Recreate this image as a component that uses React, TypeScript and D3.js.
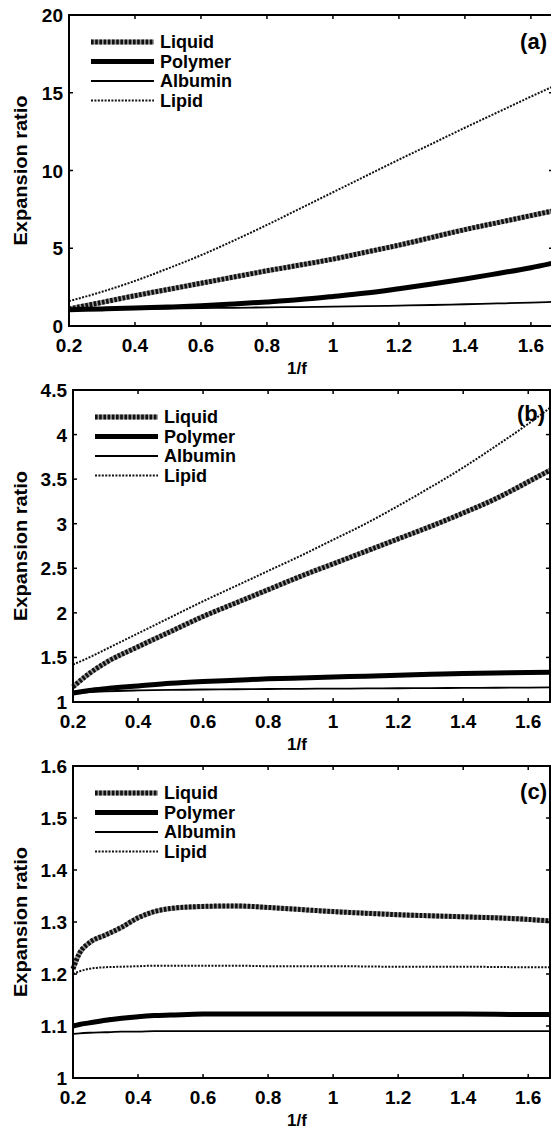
import React from "react";
import * as d3 from "d3";

const seriesNames = ["Liquid", "Polymer", "Albumin", "Lipid"];

// Panel (a)
const aX = [0.2, 0.3, 0.4, 0.5, 0.6, 0.7, 0.8, 0.9, 1.0, 1.1, 1.2, 1.3, 1.4, 1.5, 1.6, 1.667];
const aLiquid = [1.1, 1.52, 1.95, 2.35, 2.75, 3.15, 3.55, 3.92, 4.3, 4.75, 5.2, 5.7, 6.2, 6.65, 7.1, 7.4];
const aPolymer = [1.05, 1.1, 1.15, 1.22, 1.3, 1.42, 1.55, 1.7, 1.9, 2.12, 2.4, 2.7, 3.02, 3.38, 3.75, 4.05];
const aAlbumin = [1.05, 1.08, 1.1, 1.12, 1.15, 1.17, 1.2, 1.22, 1.25, 1.28, 1.31, 1.35, 1.4, 1.45, 1.5, 1.55];
const aLipid = [1.6, 2.2, 2.9, 3.7, 4.55, 5.5, 6.5, 7.55, 8.6, 9.65, 10.7, 11.72, 12.75, 13.75, 14.75, 15.4];

// Panel (b)
const bX = [0.2, 0.25, 0.3, 0.4, 0.5, 0.6, 0.7, 0.8, 0.9, 1.0, 1.1, 1.2, 1.3, 1.4, 1.5, 1.6, 1.667];
const bLiquid = [1.17, 1.32, 1.44, 1.62, 1.79, 1.96, 2.11, 2.26, 2.41, 2.55, 2.69, 2.83, 2.97, 3.12, 3.28, 3.47, 3.6];
const bPolymer = [1.1, 1.13, 1.15, 1.18, 1.21, 1.23, 1.245, 1.26, 1.27, 1.28, 1.29, 1.3, 1.31, 1.32, 1.325, 1.33, 1.335];
const bAlbumin = [1.1, 1.11, 1.12, 1.13, 1.135, 1.14, 1.143, 1.146, 1.148, 1.15, 1.152, 1.154, 1.156, 1.158, 1.16, 1.162, 1.165];
const bLipid = [1.42, 1.5, 1.59, 1.77, 1.95, 2.13, 2.3, 2.47, 2.64, 2.82, 3.0, 3.2, 3.41, 3.63, 3.87, 4.12, 4.3];

// Panel (c)
const cX = [0.2, 0.22, 0.25, 0.3, 0.35, 0.4, 0.45, 0.5, 0.6, 0.7, 0.8, 0.9, 1.0, 1.2, 1.4, 1.6, 1.667];
const cLiquid = [1.21, 1.24, 1.26, 1.275, 1.29, 1.308, 1.32, 1.326, 1.33, 1.331, 1.328, 1.324, 1.32, 1.314, 1.31, 1.305, 1.302];
const cPolymer = [1.1, 1.103, 1.106, 1.111, 1.115, 1.118, 1.12, 1.121, 1.123, 1.123, 1.123, 1.123, 1.123, 1.123, 1.123, 1.122, 1.122];
const cAlbumin = [1.085, 1.086, 1.087, 1.088, 1.089, 1.089, 1.09, 1.09, 1.09, 1.09, 1.09, 1.09, 1.09, 1.09, 1.09, 1.09, 1.09];
const cLipid = [1.2, 1.205, 1.21, 1.213, 1.214, 1.215, 1.216, 1.216, 1.216, 1.216, 1.215, 1.215, 1.215, 1.214, 1.214, 1.213, 1.213];

const xTicks = [0.2, 0.4, 0.6, 0.8, 1, 1.2, 1.4, 1.6];
const aYTicks = [0, 5, 10, 15, 20];
const bYTicks = [1, 1.5, 2, 2.5, 3, 3.5, 4, 4.5];
const cYTicks = [1, 1.1, 1.2, 1.3, 1.4, 1.5, 1.6];

const FONT = "Liberation Sans, Arial, sans-serif";

type PanelProps = {
  top: number;
  bottom: number;
  left: number;
  right: number;
  yDomain: [number, number];
  yTicks: number[];
  xs: number[];
  series: number[][];
  tag: string;
  tagX: number;
  tagY: number;
};

function StyledLine({ d, kind }: { d: string; kind: string }) {
  if (kind === "Liquid") {
    return (
      <g>
        <path d={d} fill="none" stroke="#9a9a9a" strokeWidth={5} />
        <path d={d} fill="none" stroke="#111" strokeWidth={5} strokeDasharray="2.6,1.6" />
      </g>
    );
  }
  if (kind === "Polymer") return <path d={d} fill="none" stroke="#000" strokeWidth={5} />;
  if (kind === "Albumin") return <path d={d} fill="none" stroke="#000" strokeWidth={1.8} />;
  return <path d={d} fill="none" stroke="#111" strokeWidth={2} strokeDasharray="2,1.4" />;
}

function Panel({ top, bottom, left, right, yDomain, yTicks, xs, series, tag, tagX, tagY }: PanelProps) {
  const h = bottom - top;
  const x = d3.scaleLinear().domain([0.2, 1.667]).range([left, right]);
  const y = d3.scaleLinear().domain(yDomain).range([bottom, top]);
  const line = d3
    .line<number>()
    .x((_, i) => x(xs[i]))
    .y((v) => y(v))
    .curve(d3.curveMonotoneX);
  const fmt = (v: number) => String(v);
  const tl = 4;
  const drawOrder = [3, 0, 1, 2];
  return (
    <g>
      {drawOrder.map((si) => (
        <StyledLine key={si} d={line(series[si]) || ""} kind={seriesNames[si]} />
      ))}
      <rect x={left} y={top} width={right - left} height={h} fill="none" stroke="#000" strokeWidth={2} />
      {xTicks.map((t) => (
        <g key={"x" + t}>
          <line x1={x(t)} x2={x(t)} y1={bottom} y2={bottom - tl} stroke="#000" strokeWidth={1.5} />
          <line x1={x(t)} x2={x(t)} y1={top} y2={top + tl} stroke="#000" strokeWidth={1.5} />
          <text x={x(t)} y={bottom + 26} textAnchor="middle" fontFamily={FONT} fontWeight="bold" fontSize={19}>
            {fmt(t)}
          </text>
        </g>
      ))}
      {yTicks.map((t) => (
        <g key={"y" + t}>
          <line x1={left} x2={left + tl} y1={y(t)} y2={y(t)} stroke="#000" strokeWidth={1.5} />
          <line x1={right} x2={right - tl} y1={y(t)} y2={y(t)} stroke="#000" strokeWidth={1.5} />
          <text x={left - 6} y={y(t) + 7} textAnchor="end" fontFamily={FONT} fontWeight="bold" fontSize={19}>
            {fmt(t)}
          </text>
        </g>
      ))}
      <text x={297} y={bottom + 48} textAnchor="middle" fontFamily={FONT} fontWeight="bold" fontSize={17}>
        1/f
      </text>
      <text
        transform={`translate(27,${(top + bottom) / 2}) rotate(-90)`}
        textAnchor="middle"
        fontFamily={FONT}
        fontWeight="bold"
        fontSize={18}
        textLength={150}
        lengthAdjust="spacingAndGlyphs"
      >
        Expansion ratio
      </text>
      {seriesNames.map((name, i) => {
        const ly = top + 27 + 19.5 * i;
        return (
          <g key={name}>
            <StyledLine d={`M${left + 22},${ly}L${left + 85},${ly}`} kind={name} />
            <text x={left + 91} y={ly + 6} fontFamily={FONT} fontWeight="bold" fontSize={18}>
              {name}
            </text>
          </g>
        );
      })}
      <text x={tagX} y={tagY} textAnchor="end" fontFamily={FONT} fontWeight="bold" fontSize={22}>
        {tag}
      </text>
    </g>
  );
}

export default function App() {
  return (
    <svg
      width={551}
      height={1130}
      style={{ position: "absolute", left: 0, top: 0, background: "#fff" }}
    >
      <rect x={0} y={0} width={551} height={1130} fill="#fff" />
      <Panel
        top={15}
        bottom={326}
        left={69}
        right={553}
        yDomain={[0, 20]}
        yTicks={aYTicks}
        xs={aX}
        series={[aLiquid, aPolymer, aAlbumin, aLipid]}
        tag="(a)"
        tagX={547}
        tagY={49}
      />
      <Panel
        top={390}
        bottom={702}
        left={73}
        right={550}
        yDomain={[1, 4.5]}
        yTicks={bYTicks}
        xs={bX}
        series={[bLiquid, bPolymer, bAlbumin, bLipid]}
        tag="(b)"
        tagX={545}
        tagY={421}
      />
      <Panel
        top={766}
        bottom={1078}
        left={73}
        right={550}
        yDomain={[1, 1.6]}
        yTicks={cYTicks}
        xs={cX}
        series={[cLiquid, cPolymer, cAlbumin, cLipid]}
        tag="(c)"
        tagX={547}
        tagY={799}
      />
    </svg>
  );
}
